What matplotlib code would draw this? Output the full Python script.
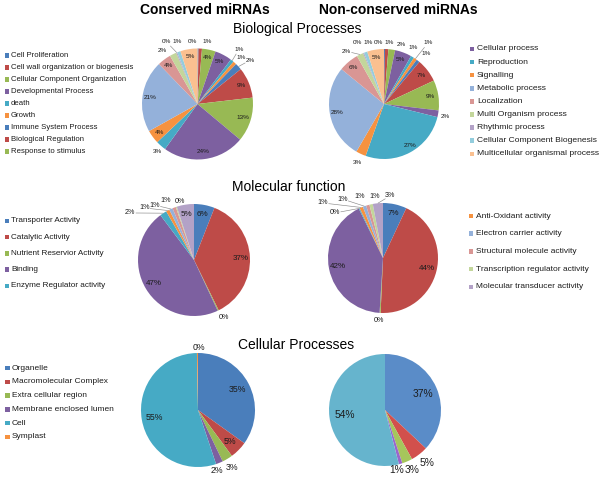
import matplotlib
matplotlib.use('Agg')
import matplotlib.pyplot as plt
from matplotlib.patches import Rectangle
import numpy as np

plt.rcParams['font.family'] = ['Liberation Sans', 'DejaVu Sans']

# ---------------- data ----------------
bp_categories = ['Cell Proliferation', 'Cell wall organization or biogenesis',
                 'Cellular Component Organization', 'Developmental Process', 'death',
                 'Growth', 'Immune System Process', 'Biological Regulation',
                 'Response to stimulus', 'Cellular process', 'Reproduction', 'Signalling',
                 'Metabolic process', 'Localization', 'Multi Organism process',
                 'Rhythmic process', 'Cellular Component Biogenesis',
                 'Multicellular organismal process']
bp_conserved = [0.3, 1, 4, 5, 1, 1, 2, 9, 13, 24, 3, 4, 21, 4, 2, 0.3, 1, 5]
bp_nonconserved = [0.3, 1, 2, 5, 1, 1, 1, 7, 9, 2, 27, 3, 28, 6, 2, 0.3, 1, 5]

mf_categories = ['Transporter Activity', 'Catalytic Activity', 'Nutrient Reservior Activity',
                 'Binding', 'Enzyme Regulator activity', 'Anti-Oxidant activity',
                 'Electron carrier activity', 'Structural molecule activity',
                 'Transcription regulator activity', 'Molecular transducer activity']
mf_conserved = [6, 37, 0.3, 47, 2, 1, 1, 1, 0.3, 5]
mf_nonconserved = [7, 44, 0.3, 42, 0.3, 1, 1, 1, 1, 3]

cp_categories = ['Organelle', 'Macromolecular Complex', 'Extra cellular region',
                 'Membrane enclosed lumen', 'Cell', 'Symplast']
cp_conserved = [35, 5, 3, 2, 55, 0.3]
cp_nonconserved = [37, 5, 3, 1, 54, 0]

column_titles = ['Conserved miRNAs', 'Non-conserved miRNAs']
section_titles = ['Biological Processes', 'Molecular function', 'Cellular Processes']

# ---------------- style ----------------
base = ['#4A7EBB', '#BE4B48', '#98B954', '#7D60A0', '#46AAC5', '#F69240']
light = ['#94B1DA', '#D99694', '#C3D69B', '#B3A2C7', '#93CDDD', '#FAC090']
bp_colors = base + base + light
mf_colors = base + light[:4]
cp_colors = base
cp_colors_n = ['#5A8CC8', '#D2504C', '#A6C65C', '#9A66CC', '#66B4CD', '#F69240']

W, H = 600, 492
fig = plt.figure(figsize=(W / 100, H / 100), dpi=100)
ax = fig.add_axes([0, 0, 1, 1])

TXT = '#1c1c1c'


def draw_pie(vals, colors, center, r, fs, inner, outside, fs_out=None):
    cx, cy = center[0], H - center[1]
    wedges, _ = ax.pie(vals, colors=colors, startangle=90, counterclock=False,
                       center=(cx, cy), radius=r, wedgeprops=dict(linewidth=0),
                       frame=True)
    for i, (w, v) in enumerate(zip(wedges, vals)):
        if v == 0:
            continue
        mid = np.deg2rad((w.theta1 + w.theta2) / 2)
        ux, uy = np.cos(mid), np.sin(mid)
        label = f'{v:.0f}%'
        if i in outside:
            dx, dy = outside[i]
            lx, ly = cx + dx * r, cy + dy * r
            ex, ey = cx + ux * r, cy + uy * r
            d = np.hypot(lx - ex, ly - ey)
            if d > 0.22 * r:
                sx, sy = (ex - lx) / d, (ey - ly) / d
                off = 0.1 * r
                ax.plot([ex, lx + sx * off], [ey, ly + sy * off], color='#8a8a8a',
                        lw=0.45, solid_capstyle='butt')
            ax.text(lx, ly, label, ha='center', va='center',
                    fontsize=fs_out or fs, color=TXT)
        else:
            ax.text(cx + ux * r * inner, cy + uy * r * inner, label, ha='center',
                    va='center', fontsize=fs, color=TXT)


# Biological processes
draw_pie(bp_conserved, bp_colors, (197.5, 104), 55.5, 4.6, 0.86,
         {0: (-0.09, 1.13), 1: (0.18, 1.13), 4: (0.75, 0.99), 5: (0.79, 0.83),
          6: (0.95, 0.79), 10: (-0.73, -0.86), 14: (-0.64, 0.96),
          15: (-0.56, 1.12), 16: (-0.36, 1.13)})
draw_pie(bp_nonconserved, bp_colors, (384, 104), 55, 4.6, 0.86,
         {0: (-0.11, 1.11), 1: (0.09, 1.11), 2: (0.31, 1.09), 4: (0.53, 1.02),
          5: (0.80, 1.11), 6: (0.76, 0.91), 9: (1.11, -0.22), 10: (0.47, -0.75),
          11: (-0.49, -1.06), 14: (-0.69, 0.96), 15: (-0.49, 1.11), 16: (-0.29, 1.11)})

# Molecular function
draw_pie(mf_conserved, mf_colors, (194, 260), 56, 5.8, 0.83,
         {2: (0.54, -1.03), 4: (-1.14, 0.84), 5: (-0.89, 0.93), 6: (-0.70, 0.98),
          7: (-0.50, 1.07), 8: (-0.25, 1.04)}, fs_out=5.2)
draw_pie(mf_nonconserved, mf_colors, (383, 258), 55, 5.8, 0.83,
         {2: (-0.07, -1.13), 4: (-0.87, 0.82), 5: (-1.09, 1.0), 6: (-0.73, 1.07),
          7: (-0.42, 1.11), 8: (-0.15, 1.11), 9: (0.13, 1.13)}, fs_out=5.2)

# Cellular processes
draw_pie(cp_conserved, cp_colors, (198, 410), 57, 6.3, 0.78,
         {2: (0.60, -1.00), 3: (0.33, -1.07), 5: (0.02, 1.10)})
draw_pie(cp_nonconserved, cp_colors_n, (385, 410), 56, 7.4, 0.73,
         {1: (0.75, -0.95), 2: (0.48, -1.07), 3: (0.21, -1.07)})

ax.set_xlim(0, W)
ax.set_ylim(0, H)
ax.axis('off')


def legend(items, colors, x_sq, x_txt, y0, dy, fs, sq=4.5):
    for k, (name, col) in enumerate(zip(items, colors)):
        y = H - (y0 + k * dy)
        ax.add_patch(Rectangle((x_sq, y - sq / 2), sq, sq, facecolor=col,
                               edgecolor='none'))
        ax.text(x_txt, y, name, ha='left', va='center', fontsize=fs, color=TXT)


legend(bp_categories[:9], bp_colors[:9], 4.5, 11, 55.5, 12.0, 5.6)
legend(bp_categories[9:], bp_colors[9:], 469.5, 477, 49, 13.1, 6.1)
legend(mf_categories[:5], mf_colors[:5], 4.5, 11, 221, 16.2, 5.85)
legend(mf_categories[5:], mf_colors[5:], 468.5, 475.5, 216, 17.7, 6.0)
legend(cp_categories, cp_colors, 5, 12, 368, 13.8, 6.0)

# titles
ax.text(205, H - 9.5, column_titles[0], ha='center', va='center', fontsize=10,
        fontweight='bold', color='black')
ax.text(398, H - 10, column_titles[1], ha='center', va='center', fontsize=10,
        fontweight='bold', color='black')
ax.text(297, H - 29, section_titles[0], ha='center', va='center', fontsize=10, color='black')
ax.text(289, H - 187, section_titles[1], ha='center', va='center', fontsize=10, color='black')
ax.text(296, H - 345, section_titles[2], ha='center', va='center', fontsize=10, color='black')

fig.savefig('out.png', dpi=100, facecolor='white')
